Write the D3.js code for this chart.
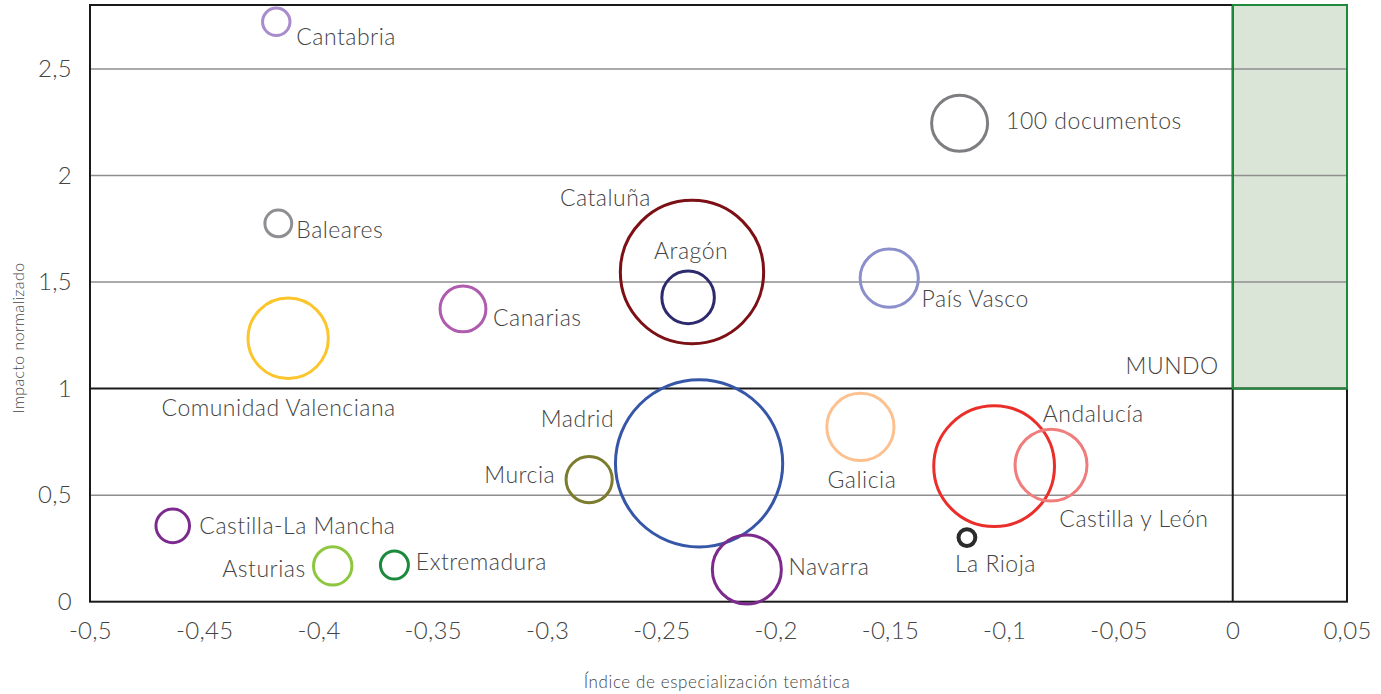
<!DOCTYPE html>
<html>
<head>
<meta charset="utf-8">
<script src="https://cdn.jsdelivr.net/npm/d3@7"></script>
<style>
  html, body { margin: 0; padding: 0; background: #fff; }
  svg text { font-family: "Lato", "Open Sans", sans-serif; font-weight: 300; fill: #444; }
</style>
</head>
<body>
<svg id="chart" width="1381" height="694"></svg>
<script>
// ---------- DATA ----------
const regions = ["Cantabria", "Baleares", "Comunidad Valenciana", "Canarias", "Cataluña", "Aragón",
  "País Vasco", "100 documentos", "Madrid", "Murcia", "Galicia", "Andalucía", "Castilla y León",
  "La Rioja", "Navarra", "Castilla-La Mancha", "Asturias", "Extremadura"];
const especializacion = [-0.4185, -0.4176, -0.4133, -0.3368, -0.2366, -0.2383,
  -0.1503, -0.1195, -0.2335, -0.2816, -0.1629, -0.1044, -0.0795,
  -0.1163, -0.2126, -0.4638, -0.3938, -0.3668];
const impacto = [2.721, 1.775, 1.236, 1.374, 1.547, 1.428,
  1.518, 2.245, 0.649, 0.573, 0.820, 0.636, 0.641,
  0.301, 0.151, 0.356, 0.168, 0.172];
const documentos = [24, 23, 206, 67, 655, 88,
  108, 100, 892, 68, 144, 465, 165,
  9, 152, 36, 47, 25];
const xTicks = [-0.5, -0.45, -0.4, -0.35, -0.3, -0.25, -0.2, -0.15, -0.1, -0.05, 0, 0.05];
const yTicks = [0, 0.5, 1, 1.5, 2, 2.5];
const worldX = 0, worldY = 1;

// ---------- STYLES ----------
const colors = {
  "Cantabria": "#a98ccb", "Baleares": "#8e8e93", "Comunidad Valenciana": "#fcc52c",
  "Canarias": "#b05cae", "Cataluña": "#7c1015", "Aragón": "#2e2a6e", "País Vasco": "#8b8fcb",
  "100 documentos": "#7e7e82", "Madrid": "#3656a8", "Murcia": "#7b7c2e", "Galicia": "#fcc18f",
  "Andalucía": "#ea2e2a", "Castilla y León": "#f07c7c", "La Rioja": "#2b2b2b",
  "Navarra": "#7c2a8c", "Castilla-La Mancha": "#7b2b8d", "Asturias": "#8dc63f", "Extremadura": "#1b8a3c"
};
// label placement relative to bubble centre: [dx, dy, anchor]
const labelPos = {
  "Cantabria": [20, 23, "start"], "Baleares": [18, 15, "start"],
  "Comunidad Valenciana": [-9.5, 78, "middle"], "Canarias": [30, 17, "start"],
  "Cataluña": [-41, -66, "end"], "Aragón": [3, -38.7, "middle"],
  "País Vasco": [32.4, 29, "start"], "100 documentos": [46.5, 6, "start"],
  "Madrid": [-85, -36.6, "end"], "Murcia": [-34, 3.2, "end"],
  "Galicia": [1.5, 61.5, "middle"], "Andalucía": [48.7, -44.3, "start"],
  "Castilla y León": [8.3, 61.7, "start"], "La Rioja": [-12, 34.8, "start"],
  "Navarra": [41.6, 5, "start"], "Castilla-La Mancha": [26.6, 8.3, "start"],
  "Asturias": [-27, 11, "end"], "Extremadura": [21.4, 5, "start"]
};

const data = regions.map((name, i) => ({
  name, x: especializacion[i], y: impacto[i], n: documentos[i]
}));

// ---------- CHART ----------
const svg = d3.select("#chart");
const pLeft = 90, pRight = 1347, pTop = 5, pBottom = 601.7;

const x = d3.scaleLinear().domain([-0.5, 0.05]).range([pLeft, pRight]);
const y = d3.scaleLinear().domain([0, 2.8]).range([pBottom, pTop]);
const r = d3.scaleSqrt().domain([0, 100]).range([0, 28]);

const loc = d3.formatLocale({decimal: ",", thousands: ".", grouping: [3], currency: ["", "€"], minus: "-"});
const fmt = loc.format("~r");

// green "MUNDO" quadrant fill
svg.append("rect")
  .attr("x", x(worldX)).attr("y", y(2.8))
  .attr("width", x(0.05) - x(worldX)).attr("height", y(worldY) - y(2.8))
  .attr("fill", "#dbe5d7");

// gridlines
svg.append("g").selectAll("line")
  .data(yTicks.filter(t => t !== 0 && t !== worldY))
  .join("line")
  .attr("x1", pLeft).attr("x2", pRight)
  .attr("y1", d => y(d)).attr("y2", d => y(d))
  .attr("stroke", "#8e8e8e").attr("stroke-width", 1.5);

// plot border
svg.append("rect")
  .attr("x", pLeft).attr("y", pTop).attr("width", pRight - pLeft).attr("height", pBottom - pTop)
  .attr("fill", "none").attr("stroke", "#1a1a1a").attr("stroke-width", 2);

// world reference lines
svg.append("line").attr("x1", pLeft).attr("x2", pRight).attr("y1", y(worldY)).attr("y2", y(worldY))
  .attr("stroke", "#1a1a1a").attr("stroke-width", 2);
svg.append("line").attr("x1", x(worldX)).attr("x2", x(worldX)).attr("y1", pTop).attr("y2", pBottom)
  .attr("stroke", "#1a1a1a").attr("stroke-width", 2);

// green quadrant border
svg.append("rect")
  .attr("x", x(worldX)).attr("y", y(2.8))
  .attr("width", x(0.05) - x(worldX)).attr("height", y(worldY) - y(2.8))
  .attr("fill", "none").attr("stroke", "#1e8a3a").attr("stroke-width", 2);

svg.append("text").attr("x", x(worldX) - 14).attr("y", y(worldY) - 15)
  .attr("text-anchor", "end").attr("font-size", 23).attr("letter-spacing", 0.5).text("MUNDO");

// axes
const xAxis = svg.append("g").attr("transform", `translate(0,${pBottom})`)
  .call(d3.axisBottom(x).tickValues(xTicks).tickSize(0).tickPadding(20).tickFormat(fmt));
xAxis.select(".domain").remove();
xAxis.selectAll("text").attr("font-size", 24).attr("fill", "#444").attr("letter-spacing", 0.3)
  .style("font-family", "Lato, sans-serif").style("font-weight", 300);

const yAxis = svg.append("g").attr("transform", `translate(${pLeft},0)`)
  .call(d3.axisLeft(y).tickValues(yTicks).tickSize(0).tickPadding(18).tickFormat(fmt));
yAxis.select(".domain").remove();
yAxis.selectAll("text").attr("font-size", 24).attr("fill", "#444").attr("letter-spacing", 0.3)
  .style("font-family", "Lato, sans-serif").style("font-weight", 300);

// axis titles
svg.append("text").attr("transform", "translate(24,338) rotate(-90)")
  .attr("text-anchor", "middle").attr("font-size", 16).attr("letter-spacing", 0.4).text("Impacto normalizado");
svg.append("text").attr("x", 717).attr("y", 688)
  .attr("text-anchor", "middle").attr("font-size", 17).attr("letter-spacing", 0.6).text("Índice de especialización temática");

// bubbles
svg.append("g").selectAll("circle")
  .data(data)
  .join("circle")
  .attr("cx", d => x(d.x)).attr("cy", d => y(d.y)).attr("r", d => r(d.n))
  .attr("fill", "none")
  .attr("stroke", d => colors[d.name])
  .attr("stroke-width", d => d.name === "La Rioja" ? 4 : 3);

// labels
svg.append("g").selectAll("text")
  .data(data)
  .join("text")
  .attr("x", d => x(d.x) + labelPos[d.name][0])
  .attr("y", d => y(d.y) + labelPos[d.name][1])
  .attr("text-anchor", d => labelPos[d.name][2])
  .attr("font-size", 23)
  .attr("letter-spacing", 0.5)
  .text(d => d.name);
</script>
</body>
</html>
